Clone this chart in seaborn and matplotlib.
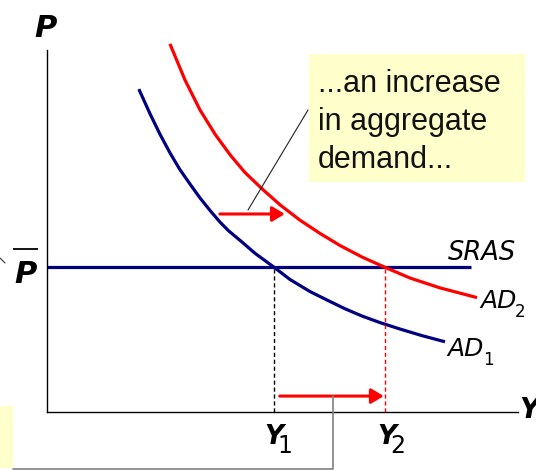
import matplotlib
matplotlib.use("Agg")
import matplotlib.pyplot as plt
import matplotlib.transforms as mtransforms
from matplotlib.patches import Rectangle
import seaborn as sns

# AD curves (Y = output, P = price level, axes run 0..10)
AD1_Y = [1.95, 2.19, 2.40, 2.61, 2.82, 3.04, 3.25, 3.46, 3.67, 3.86, 4.10, 4.42,
         4.82, 5.16, 5.58, 5.95, 6.33, 6.69, 7.07, 7.50, 7.96, 8.45]
AD1_P = [8.92, 8.23, 7.67, 7.16, 6.70, 6.29, 5.91, 5.57, 5.25, 5.00, 4.74, 4.38,
         4.00, 3.66, 3.33, 3.09, 2.85, 2.65, 2.47, 2.29, 2.11, 1.94]
AD2_Y = [2.61, 2.93, 3.25, 3.57, 3.89, 4.20, 4.57, 4.95, 5.37, 5.80, 6.22, 6.69,
         7.17, 7.71, 8.34, 9.13]
AD2_P = [10.17, 9.17, 8.34, 7.67, 7.10, 6.62, 6.16, 5.72, 5.30, 4.93, 4.60, 4.28,
         4.00, 3.70, 3.43, 3.16]

# horizontal short-run aggregate supply at the fixed price level
P_BAR = 4.0
SRAS_Y = [0.0, 9.0]
SRAS_P = [P_BAR, P_BAR]

# equilibrium outputs
Y1 = 4.82
Y2 = 7.17

# the two red "shift" arrows: (start Y, end Y, P)
SHIFT_ARROWS = [(3.67, 5.05, 5.47), (4.94, 7.15, 0.44)]

CALLOUT_LINES = ["...an increase", "in aggregate", "demand..."]

NAVY = "#000080"
RED = "#ff0000"
YELLOW = "#ffffcc"

sns.set_theme(style="white")
plt.rcParams['font.family'] = ['DejaVu Sans']

fig = plt.figure(figsize=(5.36, 4.70), dpi=100)
ax = fig.add_axes([47 / 536, 58 / 470, 471 / 536, 362 / 470])
ax.set_xlim(0, 10)
ax.set_ylim(0, 10)
ax.set_xticks([])
ax.set_yticks([])
for side in ["top", "right"]:
    ax.spines[side].set_visible(False)
for side in ["left", "bottom"]:
    ax.spines[side].set_color("black")
    ax.spines[side].set_linewidth(1.0)

# curves
sns.lineplot(x=SRAS_Y, y=SRAS_P, ax=ax, color=NAVY, linewidth=2.3, estimator=None)
sns.lineplot(x=AD1_Y, y=AD1_P, ax=ax, color=NAVY, linewidth=2.3, estimator=None, sort=False)
sns.lineplot(x=AD2_Y, y=AD2_P, ax=ax, color=RED, linewidth=2.3, estimator=None, sort=False)
for line in ax.lines:
    line.set_clip_on(False)
    line.set_solid_capstyle("butt")
    line.set_solid_joinstyle("round")

# guide lines down to the output axis
ax.plot([Y1, Y1], [0, P_BAR], color="black", lw=1.0, ls=(0, (3, 2)))
ax.plot([Y2, Y2], [0, P_BAR], color=RED, lw=1.0, ls=(0, (3, 2)))

for y_start, y_end, p in SHIFT_ARROWS:
    ax.annotate("", xy=(y_end, p), xytext=(y_start, p),
                arrowprops=dict(arrowstyle="-|>,head_length=0.75,head_width=0.45",
                                mutation_scale=10, color=RED, lw=2.2,
                                shrinkA=0, shrinkB=0))


def px_offset(dx, dy):
    return mtransforms.offset_copy(ax.transData, fig=fig, x=dx, y=dy, units="dots")


bold_it = dict(fontweight="bold", style="italic", color="black", clip_on=False)

# axis letters
ax.text(-0.04, 10.36, "P", fontsize=22, ha="center", va="baseline", **bold_it)
ax.text(10.02, -0.17, "Y", fontsize=20, ha="left", va="baseline", **bold_it)
ax.text(-0.46, 3.56, "P", fontsize=22, ha="center", va="baseline", **bold_it)

# Y1 / Y2 labels with big plain subscripts
for y_val, sub in [(Y1, "1"), (Y2 + 0.04, "2")]:
    ax.text(y_val, -0.88, "Y", fontsize=19, ha="center", va="baseline", **bold_it)
    ax.text(y_val, -0.88, sub, fontsize=17, ha="center", va="baseline", color="black",
            transform=px_offset(11, -9), clip_on=False)

# curve labels
ax.text(8.51, 4.20, "SRAS", fontsize=18.5, style="italic", ha="left", va="baseline",
        color="black", clip_on=False)
for y_val, p_val, sub, dx in [(9.19, 2.87, "2", 35), (8.49, 1.55, "1", 36)]:
    ax.text(y_val, p_val, "AD", fontsize=18, style="italic", ha="left", va="baseline",
            color="black", clip_on=False)
    ax.text(y_val, p_val, sub, fontsize=12, ha="left", va="baseline", color="black",
            transform=px_offset(dx, -9), clip_on=False)

# overlay in pixel units for the callout boxes and the bar over P
ov = fig.add_axes([0, 0, 1, 1], zorder=3)
ov.set_xlim(0, 536)
ov.set_ylim(470, 0)
ov.axis("off")

ov.plot([13, 38], [249, 249], color="black", lw=1.3, solid_capstyle="butt")

ov.add_patch(Rectangle((309, 54), 216, 128, facecolor=YELLOW, edgecolor="none"))
for i, txt in enumerate(CALLOUT_LINES):
    ov.text(318, 92 + 38 * i, txt, fontsize=22, family="Liberation Sans",
            ha="left", va="baseline", color="#111111")
ov.plot([308, 248], [110, 210], color="#222222", lw=0.8)

# piece of another callout at the lower left
ov.add_patch(Rectangle((0, 406), 13, 62, facecolor=YELLOW, edgecolor="none"))
ov.plot([13, 333, 333], [469, 469, 396], color="#808080", lw=1.2)
ov.plot([0, 5], [258, 263], color="#333333", lw=0.8)

fig.savefig("out.png", dpi=100)
